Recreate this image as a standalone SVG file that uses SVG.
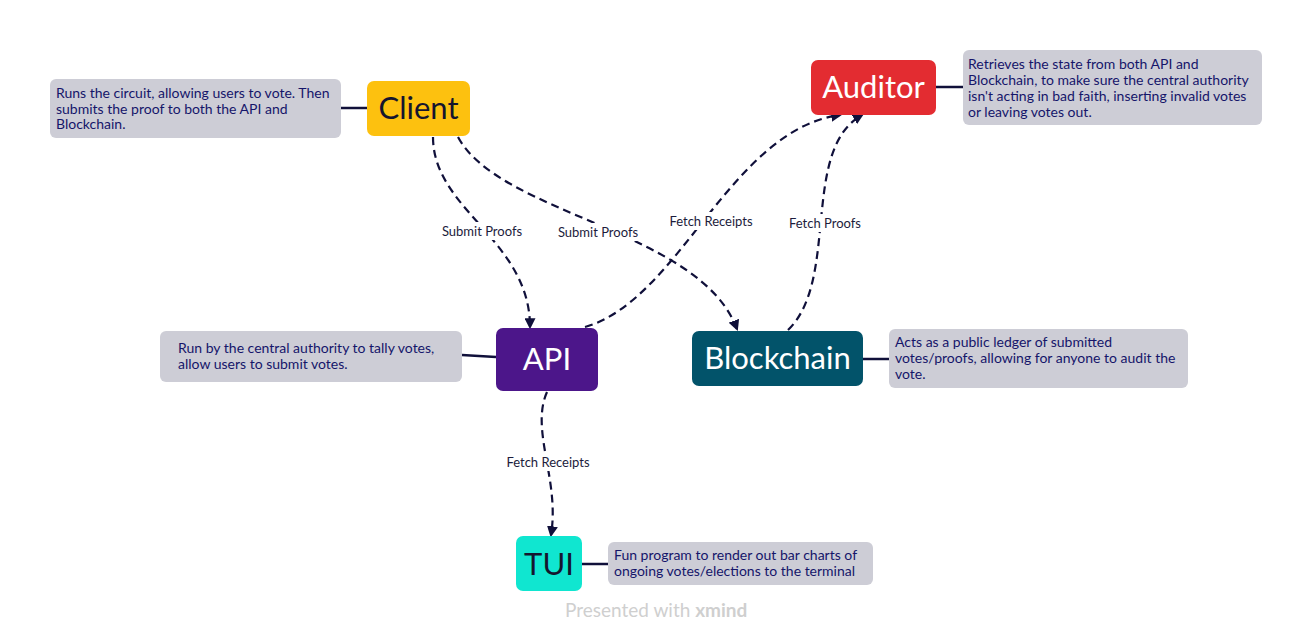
<svg xmlns="http://www.w3.org/2000/svg" width="1313" height="643" viewBox="0 0 1313 643">
<style>
.note{fill:#cdcdd6}
.nt{font-family:Lato,"Liberation Sans",sans-serif;font-size:14px;fill:#15156a}
.nodeT{font-family:Lato,"Liberation Sans",sans-serif;font-size:31px;text-anchor:middle}
.conn{fill:none;stroke:#10103a;stroke-width:2.2;stroke-dasharray:8 5}
.lbl{font-family:Lato,"Liberation Sans",sans-serif;font-size:13px;fill:#1c1c3c;text-anchor:middle}
.lblbg{fill:#ffffff}
.tie{stroke:#10103a;stroke-width:2.5;fill:none}
</style>
<defs>
<marker id="arr" viewBox="0 0 10 10" refX="8" refY="5" markerWidth="5" markerHeight="5" orient="auto" markerUnits="strokeWidth">
<path d="M0,0 L10,5 L0,10 z" fill="#10103a"/>
</marker>
</defs>
<rect width="1313" height="643" fill="#ffffff"/>

<g id="connectors">
<path class="conn" marker-end="url(#arr)" d="M433,137 C433,210 530,240 530,327"/>
<path class="conn" marker-end="url(#arr)" d="M458,137 C500,215 700,230 737,329"/>
<path class="conn" marker-end="url(#arr)" d="M585,327 C680,300 730,130 840,115"/>
<path class="conn" marker-end="url(#arr)" d="M788,330 C840,280 800,150 862,115"/>
<path class="conn" marker-end="url(#arr)" d="M547,392 C530,430 560,480 551,535"/>
<line class="tie" x1="341" y1="108" x2="367" y2="108"/>
<line class="tie" x1="936" y1="87" x2="963" y2="87"/>
<line class="tie" x1="462" y1="355" x2="496" y2="357"/>
<line class="tie" x1="862" y1="359" x2="889" y2="359"/>
<line class="tie" x1="582" y1="564" x2="608" y2="564"/>
<g id="labels">
<rect class="lblbg" x="439" y="222" width="86" height="18"/>
<text class="lbl" x="482" y="236">Submit Proofs</text>
<rect class="lblbg" x="555" y="223" width="86" height="18"/>
<text class="lbl" x="598" y="237">Submit Proofs</text>
<rect class="lblbg" x="664" y="212" width="94" height="18"/>
<text class="lbl" x="711" y="226">Fetch Receipts</text>
<rect class="lblbg" x="784" y="214" width="82" height="18"/>
<text class="lbl" x="825" y="228">Fetch Proofs</text>
<rect class="lblbg" x="501" y="453" width="94" height="18"/>
<text class="lbl" x="548" y="467">Fetch Receipts</text>
</g>
</g>

<g id="client">
<rect x="367" y="81" width="103" height="55" rx="7" fill="#fdc10f"/>
<text class="nodeT" x="418.5" y="119" fill="#15152e">Client</text>
</g>
<g id="client-note">
<rect class="note" x="50" y="79" width="291" height="59" rx="6"/>
<text class="nt" x="56" y="98">Runs the circuit, allowing users to vote. Then</text>
<text class="nt" x="56" y="113.5">submits the proof to both the API and</text>
<text class="nt" x="56" y="129">Blockchain.</text>
</g>

<g id="auditor">
<rect x="811" y="60" width="125" height="55" rx="7" fill="#e32c31"/>
<text class="nodeT" x="873.5" y="98" fill="#ffffff">Auditor</text>
</g>
<g id="auditor-note">
<rect class="note" x="963" y="50" width="299" height="75" rx="6"/>
<text class="nt" x="968" y="69">Retrieves the state from both API and</text>
<text class="nt" x="968" y="85">Blockchain, to make sure the central authority</text>
<text class="nt" x="968" y="101">isn't acting in bad faith, inserting invalid votes</text>
<text class="nt" x="968" y="117">or leaving votes out.</text>
</g>

<g id="api">
<rect x="496" y="328" width="102" height="63" rx="7" fill="#4c168a"/>
<text class="nodeT" x="547" y="370" fill="#ffffff">API</text>
</g>
<g id="api-note">
<rect class="note" x="160" y="331" width="302" height="51" rx="6"/>
<text class="nt" x="178" y="353">Run by the central authority to tally votes,</text>
<text class="nt" x="178" y="369">allow users to submit votes.</text>
</g>

<g id="blockchain">
<rect x="692" y="331" width="171" height="55" rx="7" fill="#02536a"/>
<text class="nodeT" x="777.5" y="369" fill="#ffffff">Blockchain</text>
</g>
<g id="blockchain-note">
<rect class="note" x="889" y="329" width="299" height="59" rx="6"/>
<text class="nt" x="895" y="347">Acts as a public ledger of submitted</text>
<text class="nt" x="895" y="363">votes/proofs, allowing for anyone to audit the</text>
<text class="nt" x="895" y="379">vote.</text>
</g>

<g id="tui">
<rect x="516" y="536" width="66" height="55" rx="7" fill="#10e6d0"/>
<text class="nodeT" x="549" y="575" fill="#15152e">TUI</text>
</g>
<g id="tui-note">
<rect class="note" x="608" y="542" width="265" height="43" rx="6"/>
<text class="nt" x="614" y="560">Fun program to render out bar charts of</text>
<text class="nt" x="614" y="576">ongoing votes/elections to the terminal</text>
</g>

<text x="565" y="617" font-family="Lato,'Liberation Sans',sans-serif" font-size="19" fill="#cfcfcf">Presented with <tspan font-weight="bold">xmind</tspan></text>
</svg>
